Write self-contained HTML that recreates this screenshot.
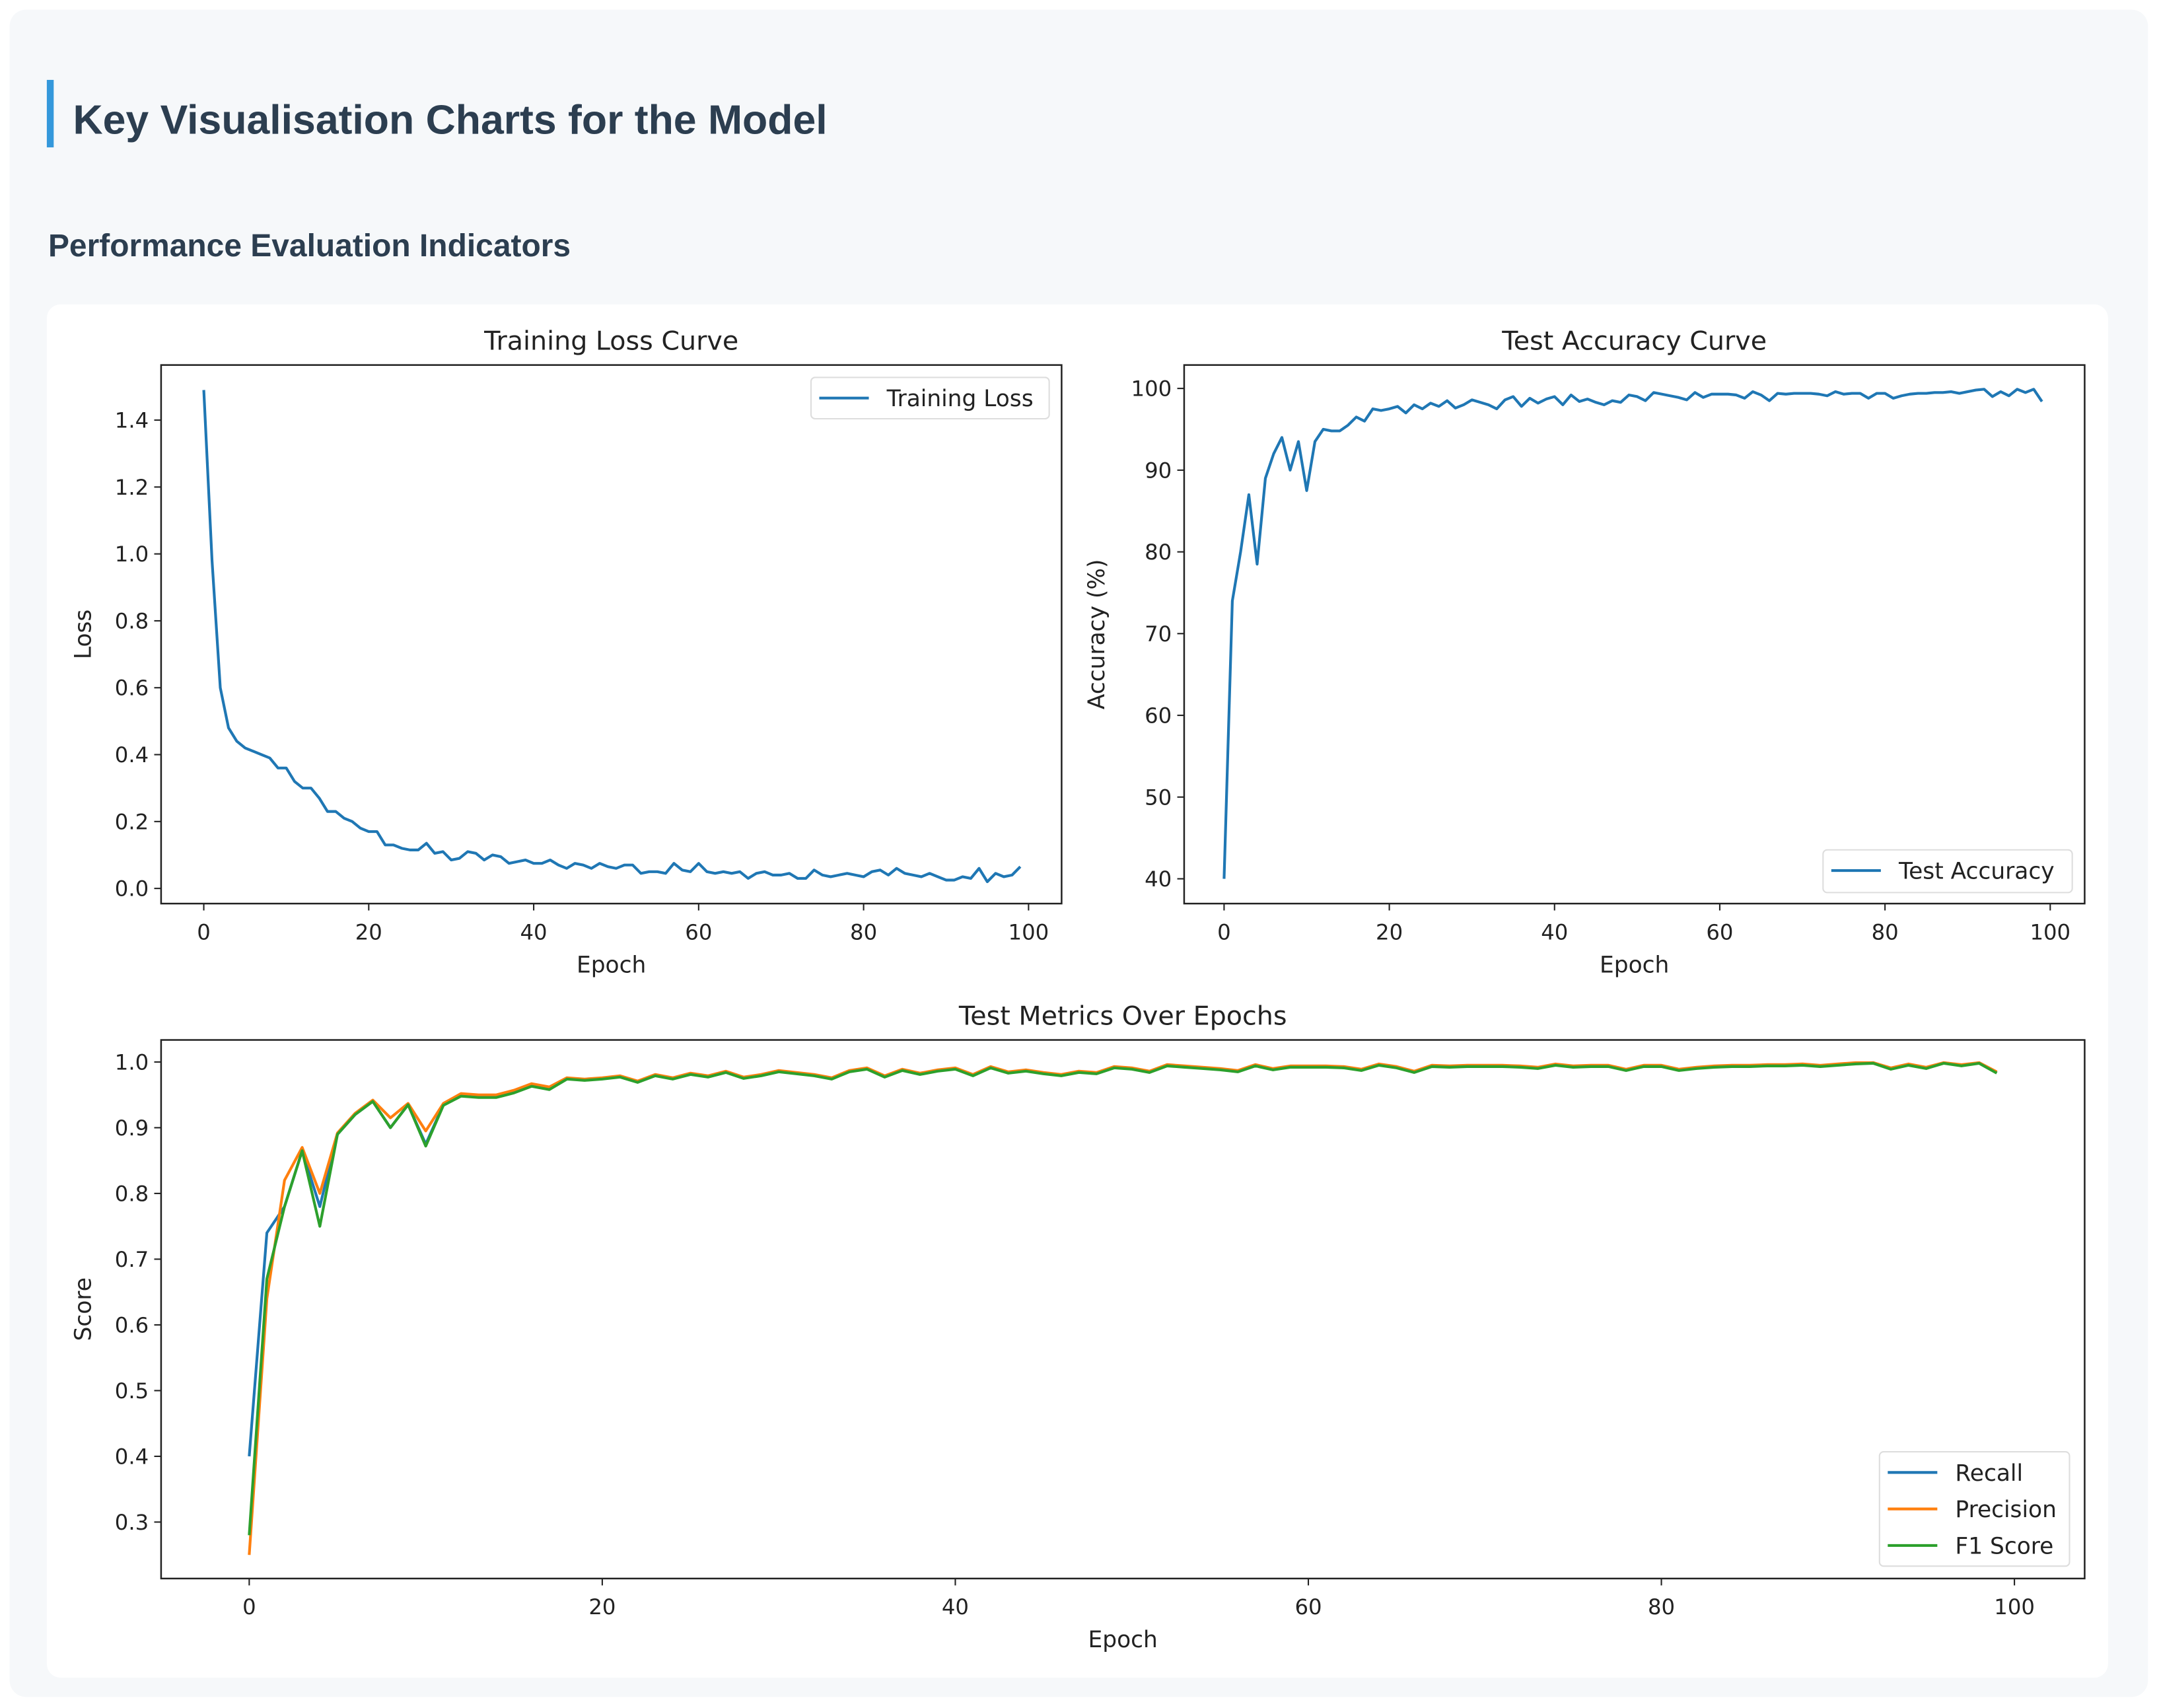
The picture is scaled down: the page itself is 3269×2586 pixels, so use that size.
<!DOCTYPE html>
<html><head><meta charset="utf-8"><style>
html,body{margin:0;padding:0;background:#fff;}
svg{display:block;}
text{font-family:"DejaVu Sans","Liberation Sans",sans-serif;fill:#222;}
.h{font-family:"Liberation Sans","DejaVu Sans",sans-serif;font-weight:bold;fill:#2c3e50;}
</style></head><body>
<svg id="s" width="3269" height="2586" viewBox="0 0 1568 1240" preserveAspectRatio="none" xmlns="http://www.w3.org/2000/svg">
<rect x="7" y="7" width="1553" height="1225" rx="12" fill="#f6f8fa"/>
<rect x="34" y="58" width="5" height="49" fill="#3498db"/>
<text class="h" x="53" y="97" font-size="30">Key Visualisation Charts for the Model</text>
<text class="h" x="35" y="186" font-size="23">Performance Evaluation Indicators</text>
<rect x="34" y="221" width="1497" height="997" rx="10" fill="#fff"/>
<g id="g"></g>
</svg>
<script>
const epochs=[];for(let i=0;i<100;i++)epochs.push(i);
const lossValues=[1.49,0.98,0.60,0.48,0.44,0.42,0.41,0.40,0.39,0.36,0.36,0.32,0.30,0.30,0.27,0.23,0.23,0.21,0.20,0.18,0.17,0.17,0.13,0.13,0.12,0.115,0.115,0.135,0.105,0.11,0.085,0.09,0.11,0.105,0.085,0.10,0.095,0.075,0.08,0.085,0.075,0.075,0.085,0.07,0.06,0.075,0.07,0.06,0.075,0.065,0.06,0.07,0.07,0.045,0.05,0.05,0.045,0.075,0.055,0.05,0.075,0.05,0.045,0.05,0.045,0.05,0.03,0.045,0.05,0.04,0.04,0.045,0.03,0.03,0.055,0.04,0.035,0.04,0.045,0.04,0.035,0.05,0.055,0.04,0.06,0.045,0.04,0.035,0.045,0.035,0.025,0.025,0.035,0.03,0.06,0.02,0.045,0.035,0.04,0.065];
const accValues=[40,74,80,87,78.5,89,92,94,90,93.5,87.5,93.5,95,94.8,94.8,95.5,96.5,96,97.5,97.3,97.5,97.8,97,98,97.5,98.2,97.8,98.5,97.6,98,98.6,98.3,98,97.5,98.6,99,97.8,98.8,98.2,98.7,99,98,99.2,98.4,98.7,98.3,98,98.5,98.3,99.2,99,98.5,99.5,99.3,99.1,98.9,98.6,99.5,98.9,99.3,99.3,99.3,99.2,98.8,99.6,99.2,98.5,99.4,99.3,99.4,99.4,99.4,99.3,99.1,99.6,99.3,99.4,99.4,98.8,99.4,99.4,98.8,99.1,99.3,99.4,99.4,99.5,99.5,99.6,99.4,99.6,99.8,99.9,99,99.6,99.1,99.9,99.5,99.9,98.4];
const recallValues=[0.40,0.74,0.78,0.865,0.78,0.89,0.92,0.94,0.90,0.935,0.875,0.935,0.95,0.948,0.948,0.955,0.965,0.96,0.975,0.973,0.975,0.978,0.97,0.98,0.975,0.982,0.978,0.985,0.976,0.98,0.986,0.983,0.98,0.975,0.986,0.99,0.978,0.988,0.982,0.987,0.99,0.98,0.992,0.984,0.987,0.983,0.98,0.985,0.983,0.992,0.99,0.985,0.995,0.993,0.991,0.989,0.986,0.995,0.989,0.993,0.993,0.993,0.992,0.988,0.996,0.992,0.985,0.994,0.993,0.994,0.994,0.994,0.993,0.991,0.996,0.993,0.994,0.994,0.988,0.994,0.994,0.988,0.991,0.993,0.994,0.994,0.995,0.995,0.996,0.994,0.996,0.998,0.999,0.99,0.996,0.991,0.999,0.995,0.999,0.984];
const precisionValues=[0.25,0.64,0.82,0.87,0.80,0.892,0.922,0.942,0.915,0.937,0.895,0.937,0.952,0.95,0.95,0.957,0.967,0.962,0.976,0.974,0.976,0.979,0.971,0.981,0.976,0.983,0.979,0.986,0.977,0.981,0.987,0.984,0.981,0.976,0.987,0.991,0.979,0.989,0.983,0.988,0.991,0.981,0.993,0.985,0.988,0.984,0.981,0.986,0.984,0.993,0.991,0.986,0.996,0.994,0.992,0.99,0.987,0.996,0.99,0.994,0.994,0.994,0.993,0.989,0.997,0.993,0.986,0.995,0.994,0.995,0.995,0.995,0.994,0.992,0.997,0.994,0.995,0.995,0.989,0.995,0.995,0.989,0.992,0.994,0.995,0.995,0.996,0.996,0.997,0.995,0.997,0.999,0.999,0.991,0.997,0.992,0.999,0.996,0.999,0.985];
const f1Values=[0.28,0.67,0.78,0.865,0.75,0.89,0.92,0.94,0.90,0.935,0.872,0.934,0.948,0.946,0.946,0.953,0.963,0.958,0.974,0.972,0.974,0.977,0.969,0.979,0.974,0.981,0.977,0.984,0.975,0.979,0.985,0.982,0.979,0.974,0.985,0.989,0.977,0.987,0.981,0.986,0.989,0.979,0.991,0.983,0.986,0.982,0.979,0.984,0.982,0.991,0.989,0.984,0.994,0.992,0.99,0.988,0.985,0.994,0.988,0.992,0.992,0.992,0.991,0.987,0.995,0.991,0.984,0.993,0.992,0.993,0.993,0.993,0.992,0.99,0.995,0.992,0.993,0.993,0.987,0.993,0.993,0.987,0.99,0.992,0.993,0.993,0.994,0.994,0.995,0.993,0.995,0.997,0.998,0.989,0.995,0.99,0.998,0.994,0.998,0.983];
const xTicks=[0,20,40,60,80,100];
const lossTicks=[0,0.2,0.4,0.6,0.8,1.0,1.2,1.4];
const accTicks=[40,50,60,70,80,90,100];
const scoreTicks=[0.3,0.4,0.5,0.6,0.7,0.8,0.9,1.0];
const NS="http://www.w3.org/2000/svg";
const G=document.getElementById('g');
function mk(tag,attrs,parent){const e=document.createElementNS(NS,tag);for(const k in attrs)e.setAttribute(k,attrs[k]);(parent||G).appendChild(e);return e;}
function lin(d0,d1,r0,r1){return v=>r0+(v-d0)*(r1-r0)/(d1-d0);}
function chart(o){
  const g=mk('g',{});
  
  
  const t=mk('text',{x:(o.L+o.R)/2,y:o.T-11,'font-size':19,'text-anchor':'middle'},g);t.textContent=o.title;
  
  
  xTicks.forEach(v=>{const x=o.xs(v);mk('line',{x1:x,x2:x,y1:o.B,y2:o.B+5,stroke:'#222','stroke-width':1},g);
    const tx=mk('text',{x:x,y:o.B+26,'font-size':15.5,'text-anchor':'middle'},g);tx.textContent=v;
    
    });
  o.yt.forEach(v=>{const y=o.ys(v);mk('line',{x1:o.L-5,x2:o.L,y1:y,y2:y,stroke:'#222','stroke-width':1},g);
    const ty=mk('text',{x:o.L-9,y:y+5.5,'font-size':15.5,'text-anchor':'end'},g);ty.textContent=o.fmt(v);
    
    });
  const xl=mk('text',{x:(o.L+o.R)/2,y:o.B+50,'font-size':16.5,'text-anchor':'middle'},g);xl.textContent='Epoch';
  
  
  const yl=mk('text',{x:0,y:0,'font-size':16.5,'text-anchor':'middle',transform:`translate(${o.ylx},${(o.T+o.B)/2}) rotate(-90)`},g);yl.textContent=o.ylab;
  
  
  o.series.forEach(s=>{const d=s.v.map((v,i)=>(i?'L':'M')+o.xs(epochs[i]).toFixed(2)+' '+o.ys(v).toFixed(2)).join(' ');
    const p=mk('path',{d:d,fill:'none',stroke:s.c,'stroke-width':2,'stroke-linejoin':'round'},g);
    
    });
  mk('rect',{x:o.L,y:o.T,width:o.R-o.L,height:o.B-o.T,fill:'none',stroke:'#222','stroke-width':1.2},g);
  const lg=mk('g',{},g);
  
  
  mk('rect',{x:o.lg[0],y:o.lg[1],width:o.lg[2],height:o.lg[3],rx:3,fill:'#fff',stroke:'#ddd','stroke-width':1},lg);
  o.series.forEach((s,i)=>{const y=o.lg[1]+15+i*26.5;
    mk('line',{x1:o.lg[0]+6,x2:o.lg[0]+42,y1:y,y2:y,stroke:s.c,'stroke-width':2},lg);
    const lt=mk('text',{x:o.lg[0]+55,y:y+6,'font-size':16.5},lg);lt.textContent=s.label;
    
    });
}
chart({name:'training-loss-chart',title:'Training Loss Curve',L:117,R:771,T:265,B:656,xs:lin(0,100,148,747),ys:lin(0,1.4,645,305),yt:lossTicks,fmt:v=>v.toFixed(1),ylab:'Loss',ylx:66,
  series:[{n:'training-loss-line',v:lossValues,c:'#1f77b4',label:'Training Loss'}],lg:[589,274,173,30]});
chart({name:'test-accuracy-chart',title:'Test Accuracy Curve',L:860,R:1514,T:265,B:656,xs:lin(0,100,889,1489),ys:lin(40,100,638,282),yt:accTicks,fmt:v=>v,ylab:'Accuracy (%)',ylx:802,
  series:[{n:'test-accuracy-line',v:accValues,c:'#1f77b4',label:'Test Accuracy'}],lg:[1324,617,181,31]});
chart({name:'test-metrics-chart',title:'Test Metrics Over Epochs',L:117,R:1514,T:755,B:1146,xs:lin(0,100,181,1463),ys:lin(0.3,1.0,1105,771),yt:scoreTicks,fmt:v=>v.toFixed(1),ylab:'Score',ylx:66,
  series:[{n:'recall-line',v:recallValues,c:'#1f77b4',label:'Recall'},{n:'precision-line',v:precisionValues,c:'#ff7f0e',label:'Precision'},{n:'f1-score-line',v:f1Values,c:'#2ca02c',label:'F1 Score'}],lg:[1365,1054,138,83]});
</script>
</body></html>
